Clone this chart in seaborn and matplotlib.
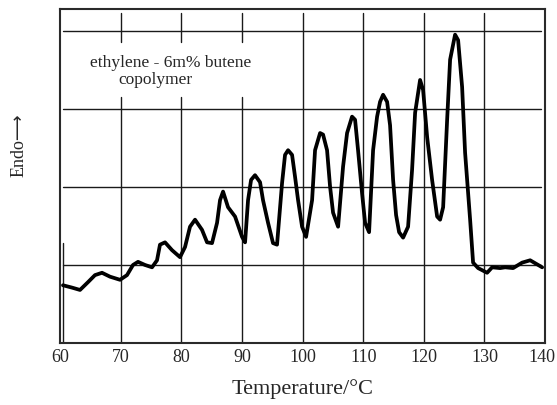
import numpy as np
import pandas as pd
import matplotlib
matplotlib.use("Agg")
import matplotlib.pyplot as plt
import matplotlib.transforms as mtransforms
import seaborn as sns

# Temperature (°C) and endothermic signal (arbitrary units)
temperature = [60.49, 61.98, 63.30, 64.62, 65.77, 66.93, 68.25, 69.90, 71.05, 72.04,
               72.87, 74.02, 75.18, 76.00, 76.49, 77.32, 78.47, 79.79, 80.62, 81.44,
               82.27, 83.42, 84.25, 85.07, 85.90, 86.39, 86.89, 87.71, 88.87, 90.02,
               90.52, 91.01, 91.51, 92.16, 92.99, 93.48, 94.31, 95.13, 95.79, 96.62,
               97.11, 97.61, 98.27, 98.76, 99.26, 99.92, 100.58, 101.57, 102.06, 102.89,
               103.38, 104.04, 104.54, 105.03, 105.86, 106.68, 107.34, 108.16, 108.66, 109.15,
               109.81, 110.31, 110.97, 111.63, 112.29, 112.78, 113.28, 113.94, 114.43, 114.93,
               115.42, 115.92, 116.58, 117.40, 118.06, 118.56, 119.38, 119.88, 120.54, 121.36,
               122.19, 122.68, 123.18, 123.84, 124.33, 125.15, 125.65, 126.31, 126.80, 127.63,
               128.12, 128.95, 130.43, 131.26, 132.58, 133.40, 134.72, 136.21, 137.53, 138.85,
               139.51]
endo = [0.74, 0.71, 0.68, 0.78, 0.87, 0.90, 0.85, 0.81, 0.87, 1.00,
        1.04, 1.00, 0.97, 1.06, 1.26, 1.29, 1.19, 1.10, 1.23, 1.49,
        1.58, 1.45, 1.29, 1.28, 1.54, 1.83, 1.94, 1.74, 1.62, 1.36,
        1.29, 1.83, 2.09, 2.15, 2.06, 1.83, 1.54, 1.28, 1.26, 2.05,
        2.41, 2.47, 2.41, 2.13, 1.83, 1.49, 1.36, 1.83, 2.47, 2.69,
        2.67, 2.47, 2.00, 1.67, 1.49, 2.26, 2.69, 2.90, 2.86, 2.47,
        1.92, 1.54, 1.42, 2.47, 2.90, 3.09, 3.18, 3.09, 2.79, 2.09,
        1.64, 1.42, 1.35, 1.49, 2.22, 2.95, 3.37, 3.24, 2.64, 2.09,
        1.62, 1.58, 1.74, 2.86, 3.63, 3.95, 3.88, 3.28, 2.44, 1.58,
        1.03, 0.96, 0.90, 0.97, 0.96, 0.97, 0.96, 1.03, 1.06, 1.00,
        0.97]

x_ticks = [60, 70, 80, 90, 100, 110, 120, 130, 140]
v_grid = [70, 80, 90, 100, 110, 120, 130]
v_grid_gap = [70, 80, 90]          # lines interrupted behind the annotation
h_grid = [1, 2, 3, 4]
start_marker = 60.49
annotation = ["ethylene - 6m% butene", "copolymer"]

sns.set_theme(style="white")
plt.rcParams["font.family"] = ["Liberation Serif", "DejaVu Serif"]

fig = plt.figure(figsize=(5.57, 4.05), dpi=100)
ax = fig.add_axes([0.1077, 0.153, 0.871, 0.825])

YMAX = 4.28
df = pd.DataFrame({"T": temperature, "Endo": endo})

gcol = "#1a1a1a"
for g in h_grid:
    ax.plot([60.5, 139.3], [g, g], color=gcol, lw=1.0, zorder=1)
for v in v_grid:
    if v in v_grid_gap:
        ax.plot([v, v], [0, 3.15], color=gcol, lw=1.0, zorder=1)
        ax.plot([v, v], [3.86, 4.23], color=gcol, lw=1.0, zorder=1)
    else:
        ax.plot([v, v], [0, 4.23], color=gcol, lw=1.0, zorder=1)
ax.plot([start_marker, start_marker], [0, 1.28], color=gcol, lw=1.0, zorder=1)

sns.lineplot(data=df, x="T", y="Endo", ax=ax, color="black", lw=2.7,
             sort=False, estimator=None, zorder=3,
             solid_joinstyle="round", solid_capstyle="round")

ax.set_xlim(60, 140)
ax.set_ylim(0, YMAX)
ax.set_xticks(x_ticks)
ax.set_xticklabels([str(t) for t in x_ticks], fontsize=13)
ax.set_yticks([])
ax.tick_params(axis="x", length=0, pad=4)
lbls = ax.get_xticklabels()
lbls[-1].set_transform(lbls[-1].get_transform() +
                       mtransforms.ScaledTranslation(-3 / 100, 0, fig.dpi_scale_trans))
for s in ax.spines.values():
    s.set_color("#2a2a2a")
    s.set_linewidth(1.5)
    s.set_visible(True)

ax.set_xlabel("Temperature/°C", fontsize=16, labelpad=10)
ax.set_ylabel("")
fig.text(19 / 557, 1 - 145 / 405, "Endo\u27f6", rotation=90, ha="center", va="center",
         fontsize=13, family=["Liberation Serif", "DejaVu Sans"])

ax.text(78.3, 3.59, annotation[0], fontsize=12.5, ha="center", va="center")
ax.text(75.8, 3.37, annotation[1], fontsize=12.5, ha="center", va="center")

fig.savefig("out.png", dpi=100)
